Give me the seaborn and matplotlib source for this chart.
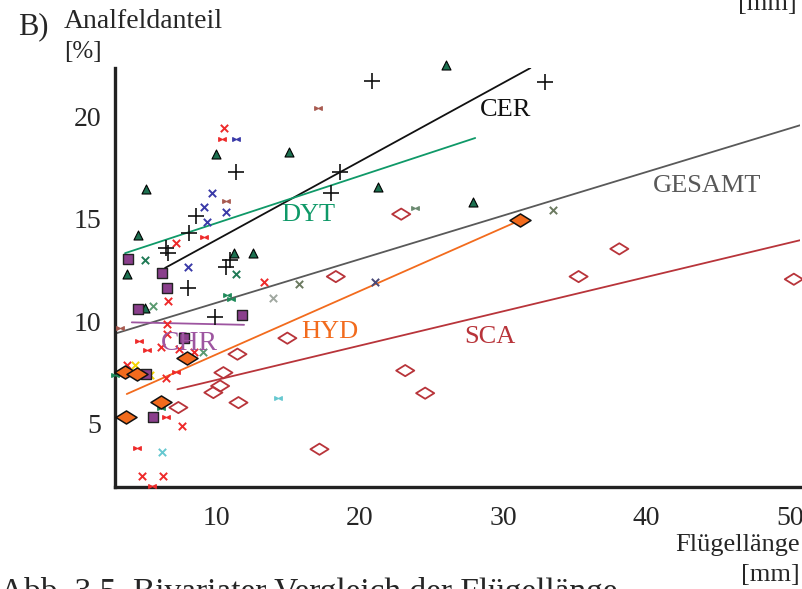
import matplotlib
matplotlib.use("Agg")
import matplotlib.pyplot as plt
from matplotlib.path import Path
from matplotlib.ticker import MultipleLocator
import seaborn as sns
import pandas as pd

# ---- data: wing length (mm) vs. anal field share (%) ----
cer_x = [6.47, 6.65, 8.09, 8.56, 8.05, 9.91, 10.65, 10.96, 11.37, 17.98, 18.63, 20.84, 32.94]
cer_y = [13.56, 13.35, 14.32, 15.13, 11.61, 10.23, 12.66, 12.99, 17.29, 16.24, 17.29, 21.72, 21.65]

dyt_x = [3.75, 4.56, 5.02, 5.07, 9.96, 11.26, 12.58, 15.09, 21.24, 26.01, 27.89]
dyt_y = [12.31, 14.21, 10.67, 16.43, 18.15, 13.35, 13.35, 18.27, 16.56, 22.49, 15.83]

chr_x = [3.86, 6.23, 6.54, 4.56, 11.77, 7.75, 5.07, 5.61]
chr_y = [13.04, 12.34, 11.64, 10.59, 10.31, 9.18, 7.44, 5.33]

hyd_x = [3.63, 4.44, 7.93, 6.14, 3.68, 31.19]
hyd_y = [7.55, 7.44, 8.23, 6.09, 5.33, 14.93]

sca_x = [22.89, 18.33, 14.95, 23.17, 24.56, 17.19, 38.10, 35.26, 50.27,
         11.47, 10.49, 10.26, 9.79, 11.54, 7.35]
sca_y = [15.22, 12.18, 9.18, 7.60, 6.50, 3.77, 13.53, 12.18, 12.05,
         8.40, 7.50, 6.85, 6.53, 6.04, 5.80]

# further families, small symbols
red_x_x = [10.54, 7.19, 6.65, 6.54, 6.54, 6.14, 7.40, 8.47, 3.79, 6.49, 7.63, 4.84, 6.26, 13.35]
red_x_y = [19.44, 13.80, 11.01, 9.86, 9.37, 8.77, 8.64, 8.52, 7.88, 7.23, 4.90, 2.47, 2.47, 11.93]
red_b_x = [10.37, 9.16, 4.63, 5.19, 7.16, 6.49, 4.49, 5.51]
red_b_y = [18.88, 14.10, 9.06, 8.61, 7.55, 5.33, 3.82, 1.98]
brown_b_x = [10.68, 17.12, 3.28]
brown_b_y = [15.86, 20.41, 9.66]
blue_x_x = [9.68, 9.16, 10.68, 9.33, 8.00]
blue_x_y = [16.27, 15.59, 15.31, 14.86, 12.63]
blue_b_x = [11.37]
blue_b_y = [18.88]
slate_x_x = [21.07]
slate_x_y = [11.93]
green_x_x = [11.35, 5.02]
green_x_y = [12.29, 12.99]
lgreen_x_x = [5.61, 9.09]
lgreen_x_y = [10.76, 8.52]
green_b_x = [10.72, 11.03, 6.14, 2.93]
green_b_y = [11.29, 11.08, 5.80, 7.39]
olive_x_x = [15.79, 33.47]
olive_x_y = [11.82, 15.43]
olive_b_x = [23.82]
olive_b_y = [15.51]
gray_x_x = [13.98]
gray_x_y = [11.12]
yellow_x_x = [4.33, 5.37]
yellow_x_y = [7.88, 7.39]
cyan_x_x = [6.19]
cyan_x_y = [3.62]
cyan_b_x = [14.28]
cyan_b_y = [6.28]

# regression lines: (x start, x end), (y start, y end)
fit_names = ["CER", "DYT", "GESAMT", "HYD", "SCA", "CHR"]
fit_x = [(6.42, 31.9), (3.63, 28.05), (2.93, 50.7), (3.75, 31.2), (7.28, 50.7), (4.1, 11.93)]
fit_y = [(12.6, 22.34), (13.32, 18.93), (9.4, 19.55), (6.46, 14.93), (6.69, 13.95), (9.95, 9.83)]

xlim = (2.93, 50.7)
ylim = (1.93, 22.34)

# ---- styling ----
sns.set_theme(style="white")
plt.rcParams["font.family"] = ["Liberation Serif", "DejaVu Serif"]

C_CER = "#111111"
C_DYT = "#0f9968"
C_GES = "#595959"
C_HYD = "#f26b1d"
C_SCA = "#b8343a"
C_CHR = "#9d55a0"

bowtie = Path([(-1, -0.5), (1, 0.5), (1, -0.5), (-1, 0.5), (-1, -0.5)],
              [Path.MOVETO, Path.LINETO, Path.LINETO, Path.LINETO, Path.CLOSEPOLY])
wide_diamond = Path([(-1, 0), (0, 0.62), (1, 0), (0, -0.62), (-1, 0)],
                    [Path.MOVETO, Path.LINETO, Path.LINETO, Path.LINETO, Path.CLOSEPOLY])

fig = plt.figure(figsize=(8.03, 5.89), dpi=100)
W, H = 803, 589
ax = fig.add_axes([115 / W, (H - 487) / H, (800 - 115) / W, (487 - 68) / H])


def scatter(xs, ys, **kw):
    df = pd.DataFrame({"x": xs, "y": ys})
    sns.scatterplot(data=df, x="x", y="y", ax=ax, legend=False, clip_on=False, **kw)


# regression lines
line_cols = {"CER": C_CER, "DYT": C_DYT, "GESAMT": C_GES, "HYD": C_HYD, "SCA": C_SCA, "CHR": C_CHR}
for name, xs, ys in zip(fit_names, fit_x, fit_y):
    sns.lineplot(x=list(xs), y=list(ys), ax=ax, color=line_cols[name], lw=1.3, zorder=2)

# small symbols
small = [
    (red_x_x, red_x_y, "x", "#ee2a2a"),
    (blue_x_x, blue_x_y, "x", "#3a3aa8"),
    (slate_x_x, slate_x_y, "x", "#4a4a78"),
    (green_x_x, green_x_y, "x", "#1f7a55"),
    (lgreen_x_x, lgreen_x_y, "x", "#5a9a70"),
    (olive_x_x, olive_x_y, "x", "#6b7a60"),
    (gray_x_x, gray_x_y, "x", "#a0a8a0"),
    (yellow_x_x, yellow_x_y, "x", "#f5d400"),
    (cyan_x_x, cyan_x_y, "x", "#66c8d0"),
]
for xs, ys, m, c in small:
    scatter(xs, ys, marker=m, s=28, color=c, linewidth=1.4, zorder=3)

bows = [
    (red_b_x, red_b_y, "#ee2a2a"),
    (brown_b_x, brown_b_y, "#a85a50"),
    (blue_b_x, blue_b_y, "#3a3aa8"),
    (green_b_x, green_b_y, "#1f8a5a"),
    (olive_b_x, olive_b_y, "#6b8a70"),
    (cyan_b_x, cyan_b_y, "#66c8d0"),
]
for xs, ys, c in bows:
    scatter(xs, ys, marker=bowtie, s=30, color=c, edgecolor=c, linewidth=0.8, zorder=3)

# main families
scatter(cer_x, cer_y, marker="+", s=130, color=C_CER, linewidth=1.2, zorder=4)
scatter(dyt_x, dyt_y, marker="^", s=42, color="#1c7050", edgecolor="black", linewidth=0.8, zorder=4)
scatter(chr_x, chr_y, marker="s", s=48, color="#8a3f8c", edgecolor="#222222", linewidth=1.0, zorder=4)
scatter(sca_x, sca_y, marker=wide_diamond, s=170, facecolor="none", edgecolor=C_SCA, linewidth=1.3, zorder=4)
scatter(hyd_x, hyd_y, marker=wide_diamond, s=230, color=C_HYD, edgecolor="#111111", linewidth=1.1, zorder=5)

# line labels
lab_fs = 19
labels = [
    ("CER", 30.2, 20.3, C_CER, lab_fs),
    ("DYT", 16.4, 15.2, C_DYT, lab_fs),
    ("GESAMT", 44.2, 16.6, C_GES, lab_fs),
    ("HYD", 17.9, 9.5, C_HYD, lab_fs),
    ("SCA", 29.1, 9.25, C_SCA, lab_fs),
    ("CHR", 8.15, 8.9, C_CHR, 20),
]
for t, x, y, c, fs in labels:
    ax.text(x, y, t, color=c, fontsize=fs, ha="center", va="center", zorder=6)

# axes
ax.set_xlim(*xlim)
ax.set_ylim(*ylim)
ax.set_xlabel("")
ax.set_ylabel("")
ax.xaxis.set_major_locator(MultipleLocator(10))
ax.xaxis.set_minor_locator(MultipleLocator(2))
ax.yaxis.set_major_locator(MultipleLocator(5))
ax.yaxis.set_minor_locator(MultipleLocator(1))
ax.tick_params(which="both", direction="in", length=4, width=1.6, color="#222222")
ax.tick_params(axis="x", which="major", labelsize=20, pad=14)
ax.tick_params(axis="y", which="major", labelsize=20, pad=10)
for side in ("top", "right"):
    ax.spines[side].set_visible(False)
for side in ("left", "bottom"):
    ax.spines[side].set_linewidth(2.4)
    ax.spines[side].set_color("#222222")
ax.grid(False)

# figure text
fig.text(18 / W, 1 - 27 / H, "B)", fontsize=22, va="center", ha="left")
fig.text(64 / W, 1 - 21 / H, "Analfeldanteil", fontsize=20, va="center", ha="left")
fig.text(64 / W, 1 - 52 / H, "[%]", fontsize=18, va="center", ha="left")
fig.text(800 / W, 1 - 545 / H, "Flügellänge", fontsize=19, va="center", ha="right")
fig.text(800 / W, 1 - 575 / H, "[mm]", fontsize=19, va="center", ha="right")
fig.text(797 / W, 1 - 4 / H, "[mm]", fontsize=19, va="center", ha="right")
fig.text(0 / W, 1 - 601 / H, "Abb. 3.5  Bivariater Vergleich der Flügellänge", fontsize=24,
         va="baseline", ha="left")

fig.savefig("out.png", dpi=100)
